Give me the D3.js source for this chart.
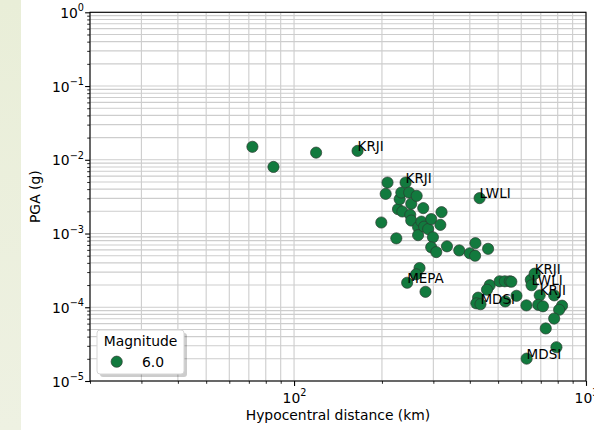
<!DOCTYPE html>
<html>
<head>
<meta charset="utf-8">
<script src="https://cdn.jsdelivr.net/npm/d3@7"></script>
<style>
  html, body { margin: 0; padding: 0; background: #ffffff; }
  svg { display: block; font-family: "DejaVu Sans", sans-serif; }
</style>
</head>
<body>
<svg id="chart" width="594" height="430"></svg>
<script>
// Hypocentral distance (km) of each record
const distances = [
  72, 85, 119, 165,
  199, 206, 209, 224, 227, 230, 233, 235, 241, 248, 250, 252, 252, 263,
  266, 266, 273, 277, 279, 288, 295, 299, 295, 307, 317, 320, 334, 368,
  400, 418, 417, 462, 432,
  269, 262, 244, 282,
  468, 458, 506, 527, 548, 555, 427, 421, 435, 529, 578, 625, 647, 667,
  651, 694, 686, 712, 778, 828, 809, 778, 728, 792, 626
];
// Peak ground acceleration (g) of each record
const pgaValues = [
  0.0150, 0.0080, 0.0125, 0.0132,
  0.00141, 0.00345, 0.00491, 0.00086, 0.00214, 0.00292, 0.00359, 0.00199,
  0.00491, 0.00359, 0.00179, 0.00253, 0.00150, 0.00324,
  0.00122, 0.00095, 0.00145, 0.00221, 0.00124, 0.00115, 0.00157, 0.00089,
  0.00065, 0.00056, 0.00131, 0.00195, 0.00067, 0.00059,
  0.00054, 0.00074, 0.00050, 0.00062, 0.00302,
  0.00034, 0.00028, 0.000215, 0.000162,
  0.000199, 0.000173, 0.000225, 0.000225, 0.000225, 0.000222, 0.000135,
  0.000113, 0.000110, 0.000120, 0.000143, 0.000106, 0.000236, 0.000285,
  0.000199, 0.000145, 0.000108, 0.000103, 0.000145, 0.000105, 0.0000925,
  0.0000703, 0.0000516, 0.0000287, 0.0000201
];
// Station code annotated next to a record ("" = not annotated)
const stations = [
  "", "", "", "KRJI",
  "", "", "", "", "", "", "", "", "KRJI", "", "", "", "", "",
  "", "", "", "", "", "", "", "", "", "", "", "", "", "",
  "", "", "", "", "LWLI",
  "", "", "MEPA", "",
  "", "", "", "", "", "", "", "", "MDSI", "", "", "", "", "KRJI",
  "LWLI", "KRJI", "", "", "", "", "", "", "", "", "MDSI"
];
const magnitudes = ["6.0"];
const xMajorTicks = [100, 1000];
const yMajorTicks = [1e-5, 1e-4, 1e-3, 1e-2, 1e-1, 1];

const svg = d3.select("#chart");
const W = 594, H = 430;
const plotLeft = 90, plotRight = 586, plotTop = 12.3, plotBottom = 381;
const fontSize = 13.9;
const markerFill = "#127a3e";

// page background and side strip
svg.append("rect").attr("width", W).attr("height", H).attr("fill", "#ffffff");
const defs = svg.append("defs");
const grad = defs.append("linearGradient").attr("id", "strip").attr("x1", 0).attr("y1", 0).attr("x2", 0).attr("y2", 1);
grad.append("stop").attr("offset", 0).attr("stop-color", "#e9eed8");
grad.append("stop").attr("offset", 1).attr("stop-color", "#eef1e2");
svg.append("rect").attr("x", 0).attr("y", 0).attr("width", 21).attr("height", H).attr("fill", "url(#strip)");

const x = d3.scaleLog().domain([20, 1000]).range([plotLeft, plotRight]);
const y = d3.scaleLog().domain([1e-5, 1]).range([plotBottom, plotTop]);

// every log-decade subdivision for the grid
function logSteps(lo, hi) {
  const out = [];
  for (let e = Math.floor(Math.log10(lo)); e <= Math.ceil(Math.log10(hi)); e++) {
    for (let m = 1; m <= 9; m++) {
      const v = m * Math.pow(10, e);
      if (v >= lo * 0.9999 && v <= hi * 1.0001) out.push(v);
    }
  }
  return out;
}
const xAll = logSteps(20, 1000);
const yAll = logSteps(1e-5, 1);
const xMinor = xAll.filter(v => !xMajorTicks.some(t => Math.abs(t - v) / t < 1e-6));
const yMinor = yAll.filter(v => !yMajorTicks.some(t => Math.abs(t - v) / t < 1e-6));

const grid = svg.append("g").attr("stroke", "#cdcdcd").attr("stroke-width", 1.1);
grid.selectAll("line.gx").data(xAll).join("line").attr("class", "gx")
  .attr("x1", d => x(d)).attr("x2", d => x(d)).attr("y1", plotTop).attr("y2", plotBottom);
grid.selectAll("line.gy").data(yAll).join("line").attr("class", "gy")
  .attr("y1", d => y(d)).attr("y2", d => y(d)).attr("x1", plotLeft).attr("x2", plotRight);

// superscript tick label: 10^k
function powLabel(sel, v) {
  const k = Math.round(Math.log10(v));
  sel.text(null);
  sel.append("tspan").text("10");
  sel.append("tspan").attr("dy", -6.5).attr("font-size", fontSize * 0.7)
    .text(k < 0 ? "\u2212" + (-k) : String(k));
}

// axes: major ticks with labels, minor ticks without
const gxMaj = svg.append("g").attr("transform", `translate(0,${plotBottom})`)
  .call(d3.axisBottom(x).tickValues(xMajorTicks).tickSize(4.9).tickPadding(4).tickFormat(() => ""));
const gxMin = svg.append("g").attr("transform", `translate(0,${plotBottom})`)
  .call(d3.axisBottom(x).tickValues(xMinor).tickSize(2.8).tickFormat(() => ""));
const gyMaj = svg.append("g").attr("transform", `translate(${plotLeft},0)`)
  .call(d3.axisLeft(y).tickValues(yMajorTicks).tickSize(4.9).tickPadding(4).tickFormat(() => ""));
const gyMin = svg.append("g").attr("transform", `translate(${plotLeft},0)`)
  .call(d3.axisLeft(y).tickValues(yMinor).tickSize(2.8).tickFormat(() => ""));

[gxMaj, gxMin, gyMaj, gyMin].forEach(g => {
  g.select(".domain").remove();
  g.selectAll(".tick line").attr("stroke", "#000").attr("stroke-width", 1.1);
});
gxMin.selectAll(".tick line").attr("stroke-width", 0.85);
gyMin.selectAll(".tick line").attr("stroke-width", 0.85);

gxMaj.selectAll(".tick text")
  .attr("fill", "#000").attr("font-size", fontSize).attr("font-family", "DejaVu Sans")
  .attr("dy", null).attr("y", 21.5)
  .each(function(d) { powLabel(d3.select(this), d); });
gyMaj.selectAll(".tick text")
  .attr("fill", "#000").attr("font-size", fontSize).attr("font-family", "DejaVu Sans")
  .attr("dy", null).attr("y", 5).attr("x", -6)
  .each(function(d) { powLabel(d3.select(this), d); });

// frame
svg.append("rect").attr("x", plotLeft).attr("y", plotTop)
  .attr("width", plotRight - plotLeft).attr("height", plotBottom - plotTop)
  .attr("fill", "none").attr("stroke", "#000").attr("stroke-width", 1.1);

// axis titles
svg.append("text").attr("x", (plotLeft + plotRight) / 2).attr("y", 420)
  .attr("text-anchor", "middle").attr("font-size", fontSize).text("Hypocentral distance (km)");
svg.append("text").attr("transform", `translate(40,${(plotTop + plotBottom) / 2}) rotate(-90)`)
  .attr("text-anchor", "middle").attr("font-size", fontSize).text("PGA (g)");

// records
const records = distances.map((d, i) => ({ d, pga: pgaValues[i], st: stations[i] }));
const plot = svg.append("g");
plot.selectAll("circle").data(records).join("circle")
  .attr("cx", r => x(r.d)).attr("cy", r => y(r.pga)).attr("r", 5.6)
  .attr("fill", markerFill).attr("stroke", "#2b3b30").attr("stroke-width", 0.7);

plot.selectAll("text.st").data(records.filter(r => r.st)).join("text")
  .attr("class", "st")
  .attr("x", r => x(r.d)).attr("y", r => y(r.pga))
  .attr("font-size", 13.5).attr("fill", "#000").text(r => r.st);

// legend
const lg = svg.append("g");
lg.append("rect").attr("x", 100).attr("y", 333).attr("width", 87).attr("height", 44).attr("rx", 3)
  .attr("fill", "#000").attr("opacity", 0.2);
lg.append("rect").attr("x", 97).attr("y", 330).attr("width", 87).attr("height", 44).attr("rx", 3)
  .attr("fill", "#ffffff").attr("stroke", "#d6d6d6").attr("stroke-width", 1);
lg.append("text").attr("x", 140.5).attr("y", 346).attr("text-anchor", "middle")
  .attr("font-size", fontSize).text("Magnitude");
lg.selectAll("circle").data(magnitudes).join("circle")
  .attr("cx", 116.7).attr("cy", 361.7).attr("r", 5.6)
  .attr("fill", markerFill).attr("stroke", "#2b3b30").attr("stroke-width", 0.7);
lg.selectAll("text.mag").data(magnitudes).join("text").attr("class", "mag")
  .attr("x", 142).attr("y", 366.5).attr("font-size", fontSize).text(m => m);
</script>
</body>
</html>
